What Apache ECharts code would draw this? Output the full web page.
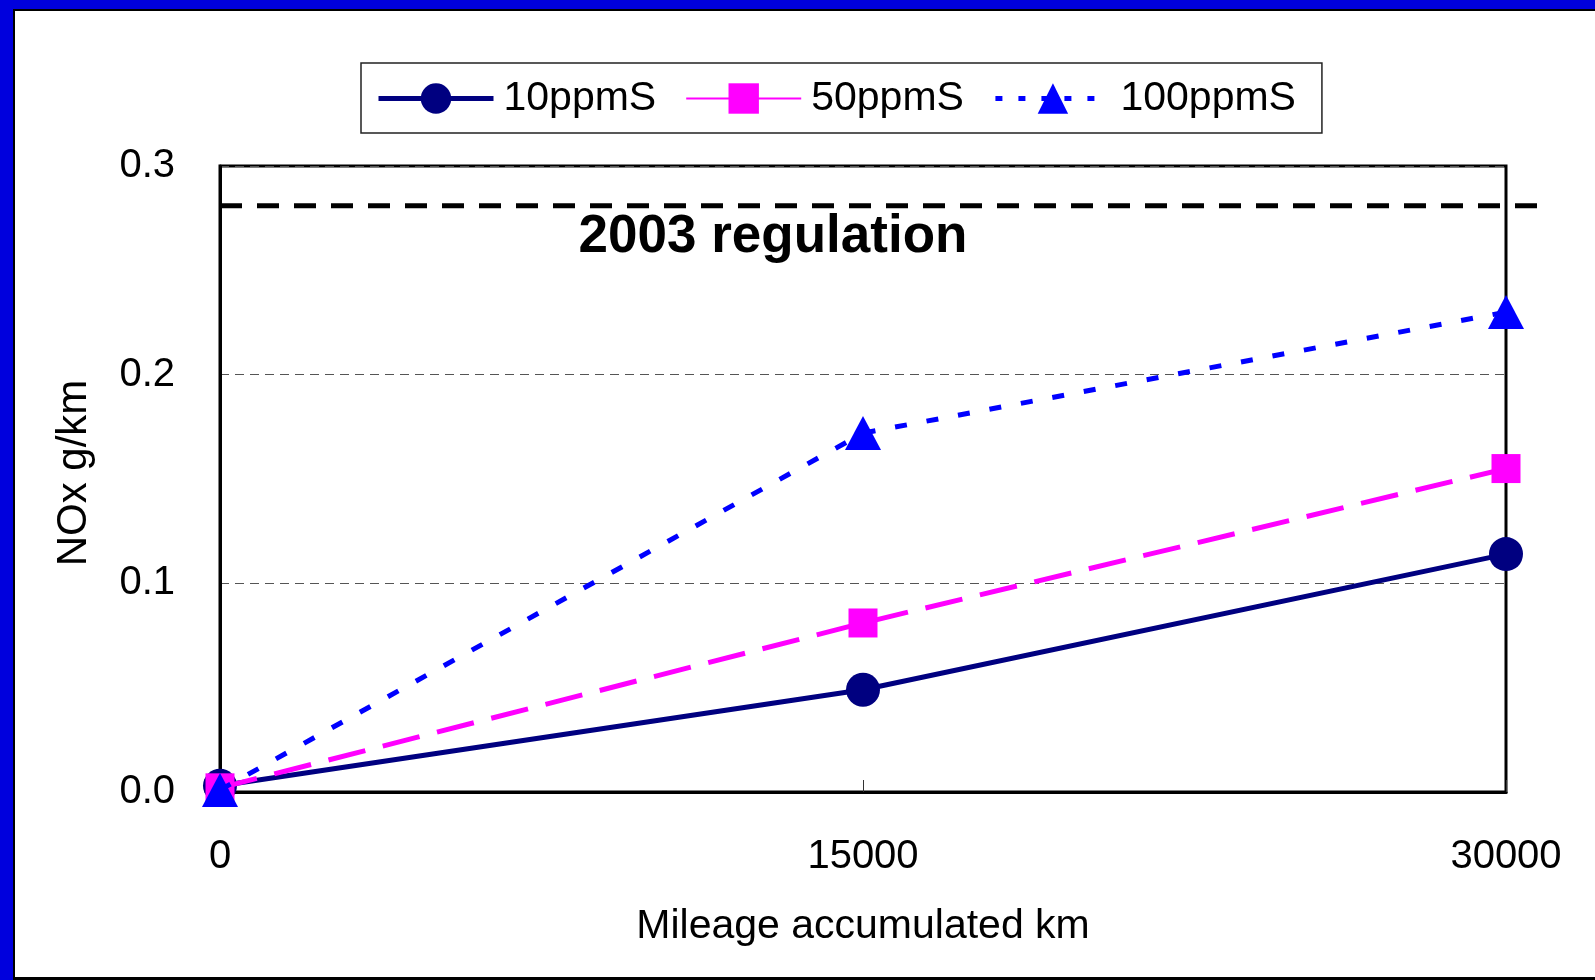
<!DOCTYPE html>
<html><head><meta charset="utf-8">
<script src="https://cdn.jsdelivr.net/npm/echarts@6/dist/echarts.min.js"></script>
<style>html,body{margin:0;padding:0;background:#fff}#c{width:1595px;height:980px}</style>
</head><body><div id="c"></div>
<script>
// ---- data ----
const mileage = [0, 15000, 30000];
const nox10ppmS = [0.003, 0.049, 0.114];
const nox50ppmS = [0.002, 0.081, 0.155];
const nox100ppmS = [0.001, 0.172, 0.230];
const seriesNames = ['10ppmS', '50ppmS', '100ppmS'];
const regulationValue = 0.281;
const regulationSpan = [0, 30820];
const regulationText = '2003 regulation';
const regulationTextAnchor = [12900, 0.2656];
const xAxisTitle = 'Mileage accumulated km';
const yAxisTitle = 'NOx g/km';

const FONT = "'Liberation Sans', Arial, sans-serif";
function pairs(xs, ys) { return xs.map((x, i) => [x, ys[i]]); }

const chart = echarts.init(document.getElementById('c'), null, { renderer: 'canvas' });
chart.setOption({
  animation: false,
  backgroundColor: '#fff',
  textStyle: { fontFamily: FONT, color: '#000' },
  graphic: [
    { type: 'rect', silent: true, z: 100, shape: { x: 0, y: 0, width: 13, height: 980 }, style: { fill: '#0000dd' } },
    { type: 'rect', silent: true, z: 100, shape: { x: 0, y: 0, width: 1595, height: 9 }, style: { fill: '#0000dd' } },
    { type: 'rect', silent: true, z: 100, shape: { x: 13, y: 9, width: 2, height: 971 }, style: { fill: '#000' } },
    { type: 'rect', silent: true, z: 100, shape: { x: 13, y: 9, width: 1582, height: 2 }, style: { fill: '#000' } },
    { type: 'rect', silent: true, z: 100, shape: { x: 13, y: 977, width: 1582, height: 3 }, style: { fill: '#000' } }
  ],
  legend: {
    left: 361, top: 63,
    padding: [15, 26, 14, 15],
    borderColor: '#222', borderWidth: 1.5,
    itemWidth: 115, itemHeight: 38, itemGap: 29,
    textStyle: { fontSize: 41, color: '#000', fontFamily: FONT, padding: [0, 0, 0, 5] },
    data: [
      { name: seriesNames[0], lineStyle: { width: 5 } },
      { name: seriesNames[1], lineStyle: { type: 'solid', width: 2 } },
      { name: seriesNames[2], lineStyle: { width: 5, type: [7, 16] } }
    ]
  },
  grid: [
    { left: 220, right: 89, top: 166, bottom: 188, show: true, borderColor: '#000', borderWidth: 3 },
    { left: 220, right: 54, top: 166, bottom: 188, show: false }
  ],
  xAxis: [{
    type: 'value', min: 0, max: 30000, interval: 15000, gridIndex: 0,
    name: xAxisTitle, nameLocation: 'middle', nameGap: 114,
    nameTextStyle: { fontSize: 41, color: '#000', fontFamily: FONT },
    axisLine: { show: true, lineStyle: { color: '#000', width: 3 } },
    axisTick: { show: true, inside: true, length: 12, lineStyle: { color: '#333', width: 1 } },
    axisLabel: { fontSize: 40, color: '#000', margin: 45, fontFamily: FONT, formatter: v => String(v) },
    splitLine: { show: false }
  }, {
    type: 'value', min: regulationSpan[0], max: regulationSpan[1], gridIndex: 1, show: false
  }],
  yAxis: [{
    type: 'value', min: 0, max: 0.3, interval: 0.1, gridIndex: 0,
    name: yAxisTitle, nameLocation: 'middle', nameGap: 125, nameRotate: 90,
    nameTextStyle: { fontSize: 42, color: '#000', fontFamily: FONT, padding: [0, 0, 0, 12] },
    axisLine: { show: true, lineStyle: { color: '#000', width: 3 } },
    axisTick: { show: false },
    axisLabel: { fontSize: 40, color: '#000', margin: 45, fontFamily: FONT, padding: [8, 0, 0, 0], formatter: v => v.toFixed(1) },
    splitLine: { show: true, lineStyle: { color: '#555', width: 1, type: [9, 6] } }
  }, {
    type: 'value', min: 0, max: 0.3, gridIndex: 1, show: false
  }],
  series: [
    {
      name: 'regulation', type: 'line', silent: true, z: 1,
      xAxisIndex: 1, yAxisIndex: 1,
      data: regulationSpan.map(x => [x, regulationValue]),
      symbol: 'none', lineStyle: { color: '#000', width: 5, type: [22, 15] }
    },
    {
      name: seriesNames[0], type: 'line', z: 3,
      data: pairs(mileage, nox10ppmS),
      symbol: 'circle', symbolSize: 34,
      lineStyle: { color: '#000080', width: 5 }, itemStyle: { color: '#000080' },
      emphasis: { disabled: true }
    },
    {
      name: seriesNames[1], type: 'line', z: 4,
      data: pairs(mileage, nox50ppmS),
      symbol: 'rect', symbolSize: 29,
      lineStyle: { color: '#ff00ff', width: 5, type: [38, 18] }, itemStyle: { color: '#ff00ff' },
      emphasis: { disabled: true }
    },
    {
      name: seriesNames[2], type: 'line', z: 5,
      data: pairs(mileage, nox100ppmS),
      symbol: 'triangle', symbolSize: [36, 34],
      lineStyle: { color: '#0000ff', width: 5, type: [12, 20] }, itemStyle: { color: '#0000ff' },
      emphasis: { disabled: true }
    },
    {
      name: 'regulation label', type: 'scatter', silent: true, z: 6,
      data: [regulationTextAnchor], symbolSize: 0,
      itemStyle: { opacity: 1 },
      label: { show: true, position: 'inside', formatter: regulationText, fontSize: 53, fontWeight: 'bold', color: '#000', opacity: 1, fontFamily: FONT }
    }
  ]
});
</script></body></html>
